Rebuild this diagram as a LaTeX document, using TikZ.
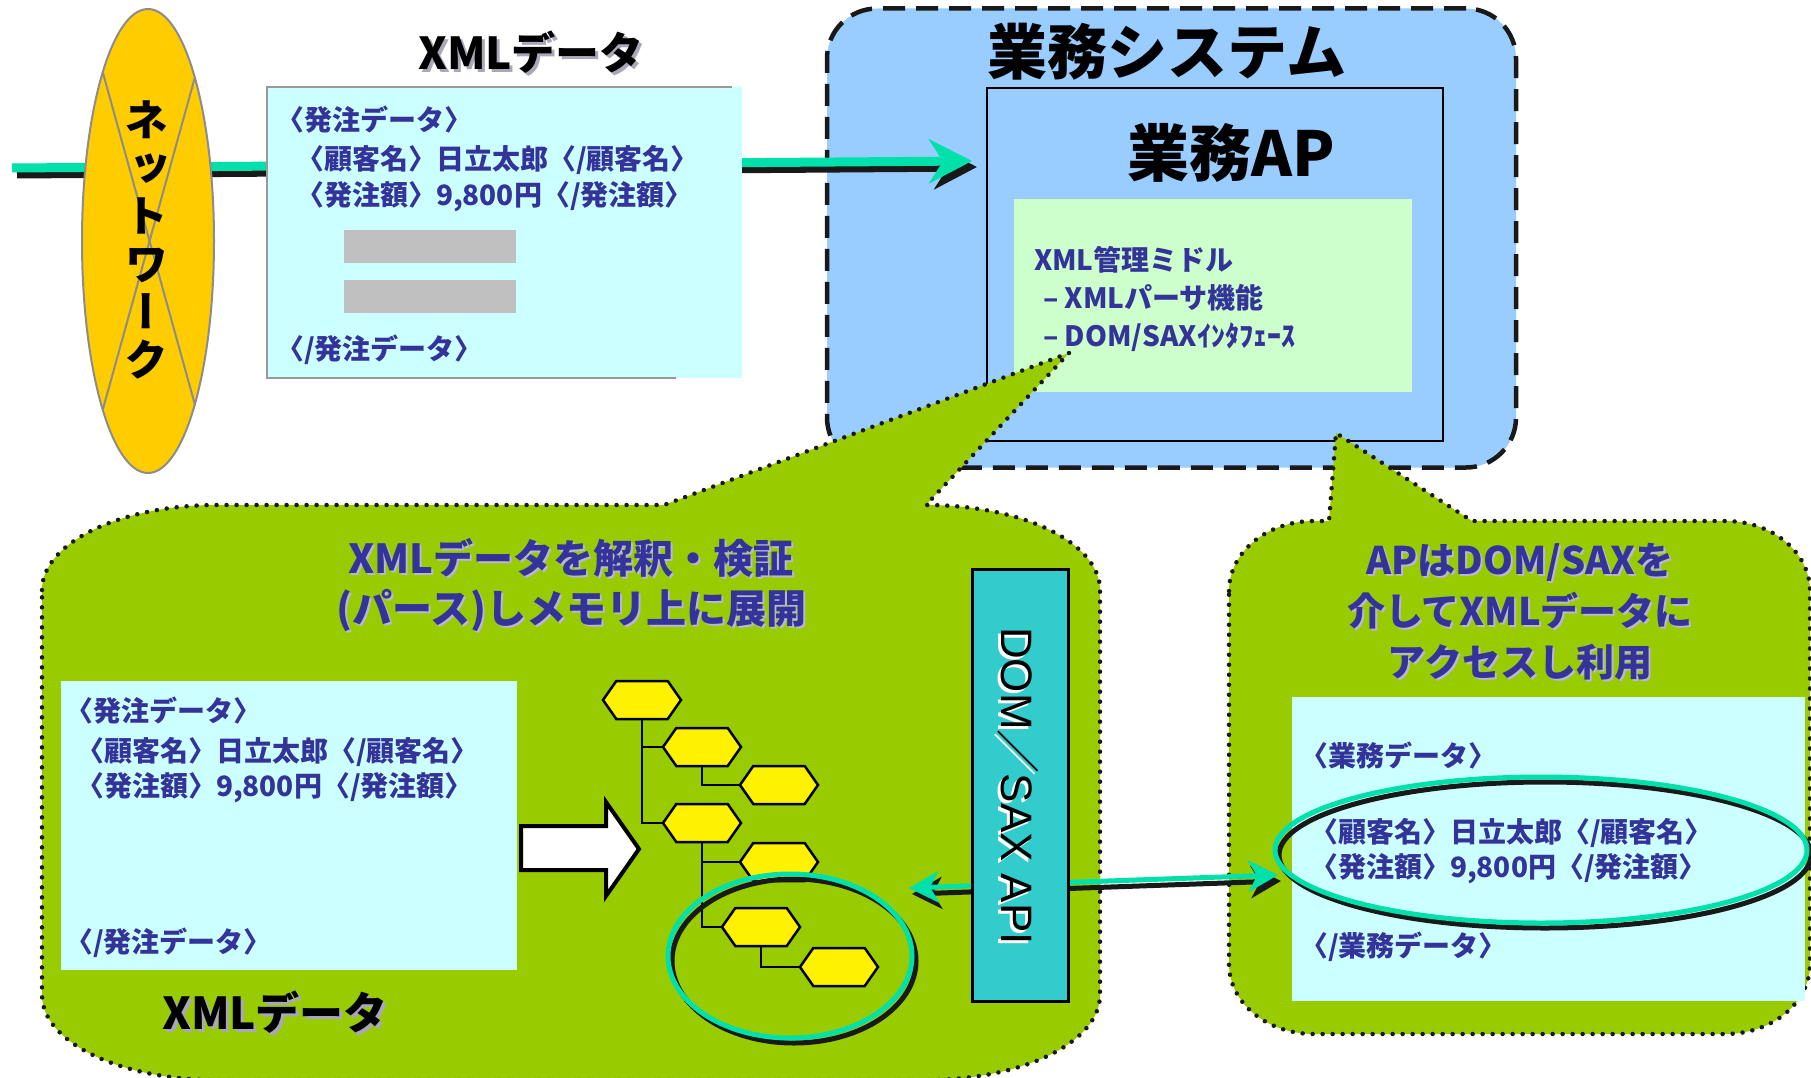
\documentclass[tikz,border=0pt]{standalone}
\usepackage{fontspec}
\newfontfamily\jp{Noto Sans CJK JP}
\newfontfamily\jpv[RawFeature=+vert]{Noto Sans CJK JP}
\newfontfamily\lib{Liberation Sans}
\usetikzlibrary{arrows.meta,shapes.geometric,shapes.symbols}
\definecolor{navy}{HTML}{333399}
\definecolor{cyanbox}{HTML}{CCFFFF}
\definecolor{sysblue}{HTML}{99CCFF}
\definecolor{mintbox}{HTML}{CCFFCC}
\definecolor{calgreen}{HTML}{99CC00}
\definecolor{tealbox}{HTML}{33CCCC}
\definecolor{arrgreen}{HTML}{00E0AA}
\definecolor{gold}{HTML}{FFCC00}
\definecolor{grayrect}{HTML}{C0C0C0}
\definecolor{tshadow}{HTML}{A8A8B8}
\definecolor{bshadow}{HTML}{B8B8D0}
\tikzset{
  every node/.style={inner sep=0pt, outer sep=0pt},
  blu/.style={anchor=west, text=navy, font=\jp\bfseries\fontsize{28}{34}\selectfont},
  bigt/.style={font=\jp\bfseries\fontsize{44}{50}\selectfont},
  huget/.style={font=\jp\bfseries\fontsize{60}{70}\selectfont},
  ltitle/.style={align=center, font=\jp\bfseries\fontsize{40}{50}\selectfont},
  rtitle/.style={align=center, font=\jp\bfseries\fontsize{38}{51}\selectfont},
  callout/.style={fill=calgreen, draw=black!90, line width=4.5pt, dash pattern=on 0pt off 10pt, line cap=round},
  hexa/.style={signal, signal to=east and west, signal pointer angle=110, draw=black, line width=2.5pt, fill=yellow, minimum width=78pt, minimum height=38pt},
  bigtip/.style={-{Stealth[length=43pt,width=44pt,inset=14pt]}},
  smalltip/.style={{Stealth[length=30pt,width=32pt,inset=9pt]}-{Stealth[length=30pt,width=32pt,inset=9pt]}},
  selring/.style={ellipse, line width=5pt, draw=#1},
}
\begin{document}
\begin{tikzpicture}[x=1pt,y=-1pt]
\useasboundingbox (0,0) rectangle (1811,1078);
\fill[white] (0,0) rectangle (1811,1078);

% ---------- business system ----------
\node[draw=black!90, fill=sysblue, line width=4.5pt, dash pattern=on 22pt off 11pt, rounded corners=50pt,
      minimum width=689pt, minimum height=459pt] (sys) at (1171.5,238) {};
\node[draw=black, line width=2pt, fill=sysblue, minimum width=456pt, minimum height=353pt] (ap) at (1215,264.5) {};
\node[fill=mintbox, minimum width=398pt, minimum height=193pt] (mid) at (1213,295.5) {};
\node[huget] (systitle) at (1167,52) {業務システム};
\node[font=\jp\bfseries\fontsize{62}{70}\selectfont] (aptitle) at (1231,153) {業務AP};
\node[blu] (m1) at (1034,260) {XML管理ミドル};
\node[blu] (m2) at (1043,298) {– XMLパーサ機能};
\node[blu] (m3) at (1043,337) {– DOM/SAXｲﾝﾀﾌｪｰｽ};

% ---------- network line and arrow ----------
\coordinate (nL) at (12,168);
\coordinate (nR) at (972,161);
\draw[line width=9pt, black!90, bigtip, transform canvas={shift={(5,6)}}] (nL) -- (nR);
\draw[line width=9pt, arrgreen, bigtip] (nL) -- (nR);

% ---------- network ellipse ----------
\node[ellipse, draw=black!45, line width=2pt, fill=gold, minimum width=132pt, minimum height=464pt] (net) at (148,241) {};
\draw[black!45, line width=2pt] (net.105.7) -- (net.-74.3);
\draw[black!45, line width=2pt] (net.74.3) -- (net.-105.7);
\node[align=center, font=\jpv\bfseries\fontsize{44}{48}\selectfont] (nettxt) at (146,240) {ネ\\ッ\\ト\\ワ\\ー\\ク};

% ---------- top XML data ----------
\node[bigt, text=tshadow] (t1s) at (534,55) {XMLデータ};
\node[bigt] (t1) at (531,52) {XMLデータ};
\node[fill=cyanbox, minimum width=475pt, minimum height=291pt] (xml1) at (504.5,232.5) {};
\draw[black!40, line width=1.5pt] (732,87) -| (267,378) -- (676,378);
\node[fill=grayrect, minimum width=172pt, minimum height=33pt] (g1) at (430,246.5) {};
\node[fill=grayrect, minimum width=172pt, minimum height=33pt] (g2) at (430,296.5) {};
\node[blu] (a1) at (276,120) {〈発注データ〉};
\node[blu] (a2) at (296,160) {〈顧客名〉日立太郎〈/顧客名〉};
\node[blu] (a3) at (296,197) {〈発注額〉9,800円〈/発注額〉};
\node[blu] (a4) at (276,350) {〈/発注データ〉};

% ---------- left callout ----------
\path[callout] (42,590) .. controls (42,543) and (120,505) .. (217,505) -- (664,505) -- (1069,353) -- (926,505)
  .. controls (1023,505) and (1100,543) .. (1100,590) -- (1100,995)
  .. controls (1100,1042) and (1023,1080) .. (926,1080) -- (217,1080)
  .. controls (120,1080) and (42,1042) .. (42,995) -- cycle;

% ---------- right callout ----------
\path[callout] (1229,591) .. controls (1229,552) and (1267,521) .. (1314,521) -- (1329,521) -- (1336,433) -- (1472,521) -- (1725,521)
  .. controls (1772,521) and (1810,552) .. (1810,591) -- (1810,964)
  .. controls (1810,1003) and (1772,1034) .. (1725,1034) -- (1314,1034)
  .. controls (1267,1034) and (1229,1003) .. (1229,964) -- cycle;

% left callout content
\node[ltitle, text=bshadow] (lts) at (573,587) {XMLデータを解釈・検証\\(パース)しメモリ上に展開};
\node[ltitle, text=navy] (lt) at (571,585) {XMLデータを解釈・検証\\(パース)しメモリ上に展開};
\node[fill=cyanbox, minimum width=456pt, minimum height=289pt] (xml2) at (289,825.5) {};
\node[blu] (b1) at (65,711) {〈発注データ〉};
\node[blu] (b2) at (76,752) {〈顧客名〉日立太郎〈/顧客名〉};
\node[blu] (b3) at (76,788) {〈発注額〉9,800円〈/発注額〉};
\node[blu] (b4) at (65,943) {〈/発注データ〉};
\node[bigt, text=tshadow] (t2s) at (278,1015) {XMLデータ};
\node[bigt] (t2) at (275,1012) {XMLデータ};

% block arrow
\draw[line width=4pt, fill=white, line join=miter] (521,826) -- (606,826) -- (606,802) -- (639,849) -- (606,896) -- (606,870) -- (521,870) -- cycle;

% tree
\node[hexa] (h1) at (642,700) {};
\node[hexa] (h2) at (702,747) {};
\node[hexa] (h3) at (779,785) {};
\node[hexa] (h4) at (702,823) {};
\node[hexa] (h5) at (779,862) {};
\node[hexa] (h6) at (761,927) {};
\node[hexa] (h7) at (839,967) {};
\begin{scope}[on background layer/.style={}]
\draw[line width=2.5pt] (h1.south) |- (h2.west);
\draw[line width=2.5pt] (h1.south) |- (h4.west);
\draw[line width=2.5pt] (h2.south) |- (h3.west);
\draw[line width=2.5pt] (h4.south) |- (h5.west);
\draw[line width=2.5pt] (h4.south) |- (h6.west);
\draw[line width=2.5pt] (h6.south) |- (h7.west);
\end{scope}
\node[selring=black!90, minimum width=244pt, minimum height=164pt] (selsh) at (794,961) {};
\node[selring=arrgreen, minimum width=244pt, minimum height=164pt] (sel) at (790,956) {};

% right callout content
\node[rtitle, text=bshadow] (rts) at (1522,614) {APはDOM/SAXを\\介してXMLデータに\\アクセスし利用};
\node[rtitle, text=navy] (rt) at (1520,612) {APはDOM/SAXを\\介してXMLデータに\\アクセスし利用};
\node[fill=cyanbox, minimum width=513pt, minimum height=304pt] (xml3) at (1548.5,849) {};
\node[blu] (c1) at (1300,756) {〈業務データ〉};
\node[blu] (c2) at (1310,833) {〈顧客名〉日立太郎〈/顧客名〉};
\node[blu] (c3) at (1310,869) {〈発注額〉9,800円〈/発注額〉};
\node[blu] (c4) at (1300,947) {〈/業務データ〉};
\node[selring=black!90, minimum width=532pt, minimum height=146pt] (recsh) at (1545,855) {};
\node[selring=arrgreen, minimum width=532pt, minimum height=146pt] (rec) at (1541,850) {};

% bidirectional arrow
\coordinate (la) at (909,888);
\coordinate (ra) at (1278,875);
\draw[line width=5pt, black!90, smalltip, transform canvas={shift={(3,6)}}] (la) -- (ra);
\draw[line width=5pt, arrgreen, smalltip] (la) -- (ra);

% DOM/SAX API box
\node[draw=black, line width=3pt, fill=tealbox, minimum width=96pt, minimum height=432pt] (dom) at (1020,785) {};
\node[rotate=-90, text=white, font=\lib\fontsize{44}{50}\selectfont] (domts) at (1015,789) {DOM{\jp ／}SAX API};
\node[rotate=-90, font=\lib\fontsize{44}{50}\selectfont] (domt) at (1018,786) {DOM{\jp ／}SAX API};
\end{tikzpicture}
\end{document}
